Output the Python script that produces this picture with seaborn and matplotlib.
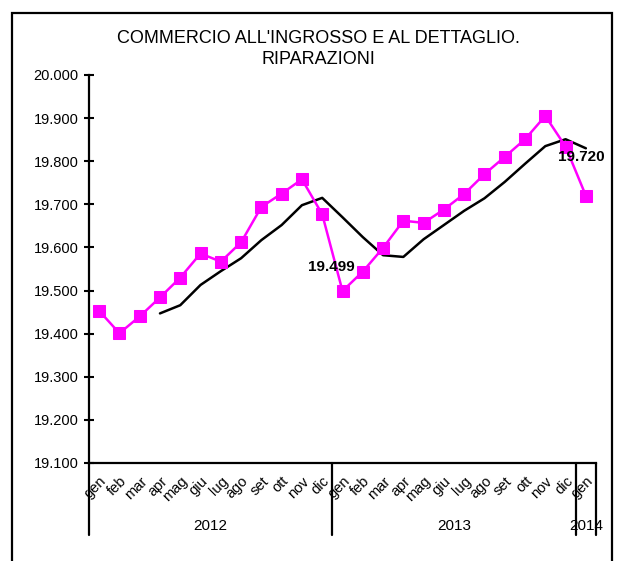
import numpy as np
import matplotlib.pyplot as plt
import seaborn as sns
import pandas as pd
from matplotlib.patches import Rectangle
from matplotlib.ticker import FuncFormatter

# dati (migliaia di occupati)
mesi = ["gen", "feb", "mar", "apr", "mag", "giu", "lug", "ago", "set", "ott", "nov", "dic"]
etichette = mesi + mesi + ["gen"]
anni = ["2012", "2013", "2014"]

grezzi = [19453, 19401, 19440, 19484, 19530, 19586, 19567, 19612, 19694, 19725, 19758, 19677,
          19499, 19544, 19599, 19662, 19657, 19688, 19724, 19770, 19810, 19851, 19905, 19834,
          19720]
trend = [np.nan, np.nan, np.nan, 19447, 19466, 19513, 19545, 19575, 19617, 19652, 19698, 19715,
         19670, 19624, 19582, 19578, 19619, 19652, 19685, 19714, 19752, 19794, 19835, 19851,
         19830]

df = pd.DataFrame({"pos": range(len(etichette)), "grezzi": grezzi, "trend": trend})

sns.set_style("white")
plt.rcParams["font.family"] = ["Liberation Sans", "DejaVu Sans"]
plt.rcParams["text.color"] = "black"
plt.rcParams["xtick.color"] = "black"
plt.rcParams["ytick.color"] = "black"

fig = plt.figure(figsize=(6.17, 5.61), dpi=100)
ax = fig.add_axes([89 / 617, 1 - 463 / 561, 507 / 617, 388 / 561])

sns.lineplot(data=df, x="pos", y="trend", color="black", lw=1.8, ax=ax)
sns.lineplot(data=df, x="pos", y="grezzi", color="#FF00FF", lw=1.8, marker="s",
             markersize=8.5, markeredgecolor="#FF00FF", ax=ax)

ax.set_xlim(-0.5, len(etichette) - 0.5)
ax.set_ylim(19100, 20000)
ax.set_yticks(np.arange(19100, 20001, 100))
ax.yaxis.set_major_formatter(FuncFormatter(lambda v, p: f"{v:,.0f}".replace(",", ".")))
ax.tick_params(axis="y", direction="inout", length=7, width=1.5, labelsize=10.5, pad=4, left=True)
ax.set_xticks(range(len(etichette)))
ax.set_xticklabels(etichette, rotation=45, ha="right", rotation_mode="anchor", fontsize=10.5)
ax.tick_params(axis="x", length=0, pad=8)
ax.set_xlabel("")
ax.set_ylabel("")

for s in ["top", "right"]:
    ax.spines[s].set_visible(False)
for s in ["left", "bottom"]:
    ax.spines[s].set_linewidth(1.6)
    ax.spines[s].set_color("black")

# separatori degli anni sotto l'asse
trans = ax.get_xaxis_transform()
for xs in [-0.5, 11.5, 23.5, 24.5]:
    ax.plot([xs, xs], [0, -72 / 388], color="black", lw=1.6, transform=trans, clip_on=False)
for xa, anno in zip([5.5, 17.5, 24], anni):
    ax.text(xa, -63 / 388, anno, transform=trans, ha="center", va="center", fontsize=11)

# etichette dei valori
for i, off in [(12, (-8, 17)), (24, (-3, 28))]:
    ax.annotate(f"{grezzi[i]:,.0f}".replace(",", "."), (i, grezzi[i]), textcoords="offset points",
                xytext=off, ha="center", va="center", fontsize=11, fontweight="bold")

fig.text(318 / 617, 1 - 49 / 561, "COMMERCIO ALL'INGROSSO E AL DETTAGLIO.\nRIPARAZIONI",
         ha="center", va="center", fontsize=13, linespacing=1.35)

fig.patches.append(Rectangle((12 / 617, -0.1), 600 / 617, 1.1 - 13 / 561, transform=fig.transFigure,
                             fill=False, edgecolor="black", lw=1.6))

fig.savefig("out.png", dpi=100)
